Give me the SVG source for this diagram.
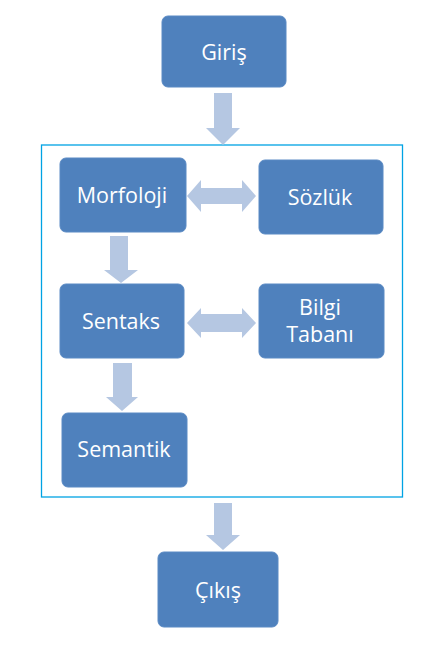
<svg xmlns="http://www.w3.org/2000/svg" width="436" height="649" viewBox="0 0 436 649">
<style>
.box{fill:#4F81BD;stroke:#5A8AC4;stroke-width:1}
.lbl{fill:#FFFFFF;font-family:"Open Sans","Liberation Sans",sans-serif;font-size:21.5px;text-anchor:middle;dominant-baseline:central}
.arr{fill:#B5C7E2}
.frame{fill:none;stroke:#00A3E4;stroke-width:1.3}
</style>
<rect width="436" height="649" fill="#FFFFFF"/>
<rect class="frame" x="41.5" y="145" width="361" height="352"/>
<g id="connectors">
<polygon class="arr" points="214,93 232,93 232,128 240,128 223,145 206,128 214,128"/>
<polygon class="arr" points="110,236 128,236 128,270 138,270 121,283 104,270 110,270"/>
<polygon class="arr" points="113,363 132,363 132,397 138,397 122,411 106,397 113,397"/>
<polygon class="arr" points="214,503 232,503 232,535 240,535 223,550 206,535 214,535"/>
<polygon class="arr" points="187,196 201,180 201,188 242,188 242,180 256,196 242,212 242,204 201,204 201,212"/>
<polygon class="arr" points="187,323 201,308 201,314 242,314 242,308 256,323 242,338 242,332 201,332 201,338"/>
</g>
<g id="giris"><rect class="box" x="162" y="16" width="124" height="71" rx="6"/><text class="lbl" x="224" y="51">Giriş</text></g>
<g id="morfoloji"><rect class="box" x="60" y="158" width="126" height="74" rx="6"/><text class="lbl" x="122" y="194">Morfoloji</text></g>
<g id="sozluk"><rect class="box" x="259" y="160" width="124" height="74" rx="6"/><text class="lbl" x="320" y="196">Sözlük</text></g>
<g id="sentaks"><rect class="box" x="60" y="284" width="124" height="74" rx="6"/><text class="lbl" x="121" y="320">Sentaks</text></g>
<g id="bilgi"><rect class="box" x="259" y="284" width="125" height="74" rx="6"/><text class="lbl" x="320" y="306">Bilgi</text><text class="lbl" x="320" y="333">Tabanı</text></g>
<g id="semantik"><rect class="box" x="62" y="413" width="125" height="74" rx="6"/><text class="lbl" x="124" y="448">Semantik</text></g>
<g id="cikis"><rect class="box" x="158" y="552" width="120" height="75" rx="6"/><text class="lbl" x="218" y="589">Çıkış</text></g>
</svg>
